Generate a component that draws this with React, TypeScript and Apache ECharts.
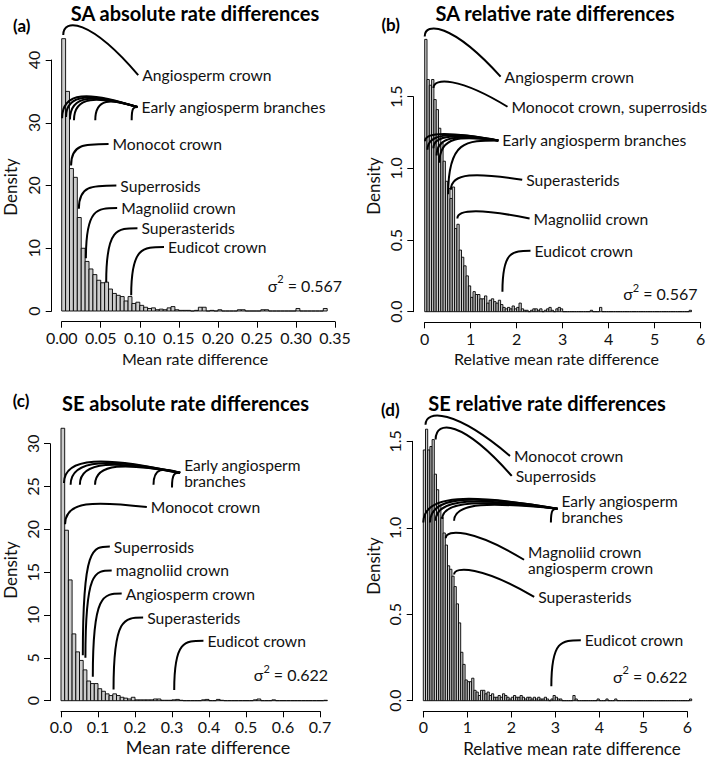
import React, { useEffect, useRef } from "react";
import * as echarts from "echarts";

// ---------- data ----------
const BIN_A = 0.005;
const HIST_A = [
  43.4, 35.0, 22.7, 21.3, 14.9, 10.0, 7.9, 6.7, 5.8, 4.9,
  4.5, 4.6, 3.5, 2.8, 2.5, 2.3, 1.6, 2.3, 1.2, 1.4,
  0.9, 0.6, 0.4, 0.5, 0.2, 0.3, 0.2, 0.5, 0.7, 0.2,
  0.1, 0.1, 0.1, 0, 0.1, 0.6, 0.6, 0, 0.1, 0,
  0.2, 0, 0, 0, 0, 0.2, 0.2, 0, 0, 0,
  0, 0.2, 0.2, 0, 0, 0, 0, 0, 0, 0,
  0.4, 0, 0, 0, 0, 0, 0, 0.4,
];

const BIN_B = 0.05;
const HIST_B = [
  1.9, 1.62, 1.58, 1.62, 1.48, 1.41, 1.28, 1.18, 1.05, 0.91,
  0.86, 0.79, 0.87, 0.58, 0.61, 0.43, 0.38, 0.32, 0.25, 0.18,
  0.1, 0.14, 0.12, 0.12, 0.09, 0.09, 0.11, 0.06, 0.08, 0.09,
  0.07, 0.06, 0.08, 0.05, 0.03, 0.02, 0.03, 0.02, 0.04, 0.02,
  0.03, 0.06, 0.02, 0.01, 0.01, 0, 0.01, 0.02, 0.02, 0.01,
  0.02, 0, 0.01, 0.02, 0.03, 0.01, 0, 0.02, 0.03, 0.02,
  0, 0, 0, 0, 0, 0, 0, 0, 0, 0,
  0, 0, 0.01, 0, 0, 0, 0.03, 0, 0, 0,
  0, 0, 0, 0, 0, 0, 0, 0, 0, 0,
  0, 0, 0, 0, 0, 0, 0, 0, 0, 0,
  0, 0, 0, 0, 0, 0, 0, 0, 0, 0,
  0, 0, 0, 0, 0, 0.01,
];

const BIN_C = 0.01;
const HIST_C = [
  31.8, 19.9, 14.1, 7.8, 5.7, 4.7, 3.6, 2.3, 2.0, 2.0,
  1.4, 1.1, 0.8, 0.6, 0.8, 0.6, 0.4, 0.3, 0.2, 0.4,
  0.1, 0.1, 0.1, 0.1, 0.1, 0.2, 0.2, 0.05, 0.05, 0.05,
  0.1, 0.15, 0.05, 0, 0, 0, 0, 0, 0.1, 0.15,
  0, 0, 0.15, 0.05, 0, 0, 0, 0, 0, 0,
  0, 0, 0.1, 0.2, 0, 0, 0, 0.1, 0, 0,
  0, 0, 0, 0, 0, 0, 0, 0, 0, 0,
  0, 0.05,
];

const BIN_D = 0.05;
const HIST_D = [
  1.45, 1.57, 1.45, 1.47, 1.51, 1.31, 1.22, 1.13, 1.06, 0.97,
  0.9, 0.78, 0.76, 0.72, 0.66, 0.56, 0.45, 0.28, 0.21, 0.12,
  0.11, 0.11, 0.13, 0.06, 0.05, 0.03, 0.06, 0.06, 0.04, 0.05,
  0.03, 0.04, 0.02, 0.02, 0.03, 0.02, 0.04, 0.03, 0.02, 0.01,
  0.02, 0.03, 0.02, 0.02, 0.03, 0.02, 0.01, 0.02, 0.02, 0.01,
  0.02, 0.01, 0.02, 0.01, 0.01, 0.02, 0.01, 0, 0.01, 0.03,
  0.02, 0.01, 0.01, 0, 0, 0, 0, 0, 0.03, 0.01,
  0, 0, 0, 0, 0, 0, 0, 0, 0, 0.01,
  0, 0, 0, 0.01, 0, 0, 0, 0.01, 0, 0,
  0, 0, 0, 0, 0, 0, 0, 0, 0, 0,
  0, 0, 0, 0, 0, 0, 0, 0, 0, 0,
  0, 0, 0, 0, 0, 0, 0, 0, 0, 0,
  0, 0.01,
];

// annotation: label, end point (data units), lines = [x0, y0, peak]
const ANN_A = [
  { text: "Angiosperm crown", end: [0.098, 37.6], lines: [[0.002, 44.0, 45.2]] },
  {
    text: "Early angiosperm branches",
    end: [0.097, 32.5],
    lines: [[0.0005, 30.7, 34.2], [0.0055, 30.9, 34.0], [0.0106, 30.5, 33.8], [0.0157, 30.4, 33.6], [0.043, 30.4, 33.3], [0.0896, 30.4, 32.5]],
  },
  { text: "Monocot crown", end: [0.06, 26.6], lines: [[0.012, 23.2, 26.6]] },
  { text: "Superrosids", end: [0.07, 20.0], lines: [[0.022, 16.3, 20.0]] },
  { text: "Magnoliid crown", end: [0.071, 16.4], lines: [[0.031, 8.4, 16.4]] },
  { text: "Superasterids", end: [0.097, 13.2], lines: [[0.057, 4.6, 13.2]] },
  { text: "Eudicot crown", end: [0.131, 10.2], lines: [[0.089, 2.5, 10.2]] },
];

const ANN_B = [
  { text: "Angiosperm crown", end: [1.65, 1.64], lines: [[0.0, 1.92, 1.96]] },
  { text: "Monocot crown, superrosids", end: [1.8, 1.43], lines: [[0.19, 1.56, 1.6]] },
  {
    text: "Early angiosperm branches",
    end: [1.6, 1.195],
    lines: [[0.007, 1.19, 1.24], [0.06, 1.13, 1.23], [0.19, 1.14, 1.22], [0.26, 1.09, 1.21], [0.32, 1.04, 1.2], [0.51, 0.82, 1.195]],
  },
  { text: "Superasterids", end: [2.12, 0.92], lines: [[0.57, 0.85, 0.95]] },
  { text: "Magnoliid crown", end: [2.28, 0.65], lines: [[0.71, 0.65, 0.7]] },
  { text: "Eudicot crown", end: [2.3, 0.425], lines: [[1.69, 0.14, 0.425]] },
];

const ANN_C = [
  {
    text: "Early angiosperm\nbranches",
    end: [0.322, 26.6],
    lines: [[0.008, 25.4, 27.9], [0.026, 25.2, 27.7], [0.051, 25.2, 27.5], [0.092, 25.2, 27.3], [0.25, 25.2, 26.9], [0.3, 24.9, 26.6]],
  },
  { text: "Monocot crown", end: [0.232, 22.6], lines: [[0.011, 20.6, 22.9]] },
  { text: "Superrosids", end: [0.132, 18.0], lines: [[0.059, 5.3, 18.0]] },
  { text: "magnoliid crown", end: [0.137, 15.2], lines: [[0.066, 5.0, 15.2]] },
  { text: "Angiosperm crown", end: [0.164, 12.5], lines: [[0.086, 2.8, 12.5]] },
  { text: "Superasterids", end: [0.222, 9.7], lines: [[0.142, 1.3, 9.7]] },
  { text: "Eudicot crown", end: [0.385, 7.0], lines: [[0.306, 1.25, 7.0]] },
];

const ANN_D = [
  { text: "Monocot crown", end: [1.97, 1.415], lines: [[0.05, 1.595, 1.64]] },
  { text: "Superrosids", end: [2.01, 1.3], lines: [[0.28, 1.51, 1.57]] },
  {
    text: "Early angiosperm\nbranches",
    end: [3.05, 1.11],
    lines: [[0.0, 1.03, 1.165], [0.15, 1.03, 1.16], [0.28, 1.04, 1.15], [0.43, 1.05, 1.14], [0.7, 1.04, 1.13], [2.9, 1.03, 1.11]],
  },
  { text: "Magnoliid crown\nangiosperm crown", end: [2.29, 0.815], lines: [[0.51, 0.94, 0.965]] },
  { text: "Superasterids", end: [2.52, 0.6], lines: [[0.7, 0.73, 0.75]] },
  { text: "Eudicot crown", end: [3.58, 0.35], lines: [[2.91, 0.083, 0.35]] },
];

const TITLES = [
  "SA absolute rate differences",
  "SA relative rate differences",
  "SE absolute rate differences",
  "SE relative rate differences",
];
const TAGS = ["(a)", "(b)", "(c)", "(d)"];
const X_NAMES = [
  "Mean rate difference",
  "Relative mean rate difference",
  "Mean rate difference",
  "Relative mean rate difference",
];
const Y_NAME = "Density";
const SIGMAS = ["0.567", "0.567", "0.622", "0.622"];

// axis scales: [max, interval, decimals]
const X_SCALES = [
  [0.35, 0.05, 2],
  [6, 1, 0],
  [0.7, 0.1, 1],
  [6, 1, 0],
];
const Y_SCALES = [
  [40, 10, 0],
  [1.5, 0.5, 1],
  [30, 5, 0],
  [1.5, 0.5, 1],
];

// ---------- layout ----------
const FONT = "Lato";
const INK = "#111";
const LABEL_SIZE = 15.7;
const LAYOUT = [
  { grid: [61.7, 60, 273.3, 251], title: [195, 12.5], tag: [21.7, 25], xName: [195, 358, 16], yName: [10, 187], sigmaAt: [0.359, 4.4], xOff: 10.7, yOff: 10, xMargin: 8 },
  { grid: [424.7, 96.7, 276, 215], title: [555, 12.5], tag: [390.7, 24], xName: [556.5, 358, 16], yName: [373, 186], sigmaAt: [5.93, 0.14], xOff: 10.6, yOff: 11.4, xMargin: 8 },
  { grid: [61, 443.7, 259, 257], title: [185.5, 402.5], tag: [21, 400.5], xName: [208, 747, 18], yName: [10, 570], sigmaAt: [0.722, 3.24], xOff: 10.6, yOff: 11, xMargin: 7 },
  { grid: [423.3, 441.3, 264, 259.4], title: [547, 403], tag: [390.3, 409], xName: [572, 748, 17], yName: [373, 566], sigmaAt: [6.0, 0.154], xOff: 10.8, yOff: 10.6, xMargin: 7 },
];

const PANELS = [
  { bin: BIN_A, hist: HIST_A, ann: ANN_A },
  { bin: BIN_B, hist: HIST_B, ann: ANN_B },
  { bin: BIN_C, hist: HIST_C, ann: ANN_C },
  { bin: BIN_D, hist: HIST_D, ann: ANN_D },
];

function buildOption() {
  const grid: any[] = [];
  const xAxis: any[] = [];
  const yAxis: any[] = [];
  const series: any[] = [];
  const graphic: any[] = [];

  PANELS.forEach((p, i) => {
    const L = LAYOUT[i];
    const [xMax, xInt, xDec] = X_SCALES[i];
    const [yMax, yInt, yDec] = Y_SCALES[i];
    grid.push({
      left: L.grid[0],
      top: L.grid[1],
      width: L.grid[2],
      height: L.grid[3],
      containLabel: false,
      outerBoundsMode: "none",
    });
    xAxis.push({
      type: "value",
      gridIndex: i,
      min: 0,
      max: xMax,
      interval: xInt,
      offset: L.xOff,
      axisLine: { show: true, onZero: false, lineStyle: { color: "#000", width: 1 } },
      axisTick: { show: true, length: 6, lineStyle: { color: "#000", width: 1 } },
      axisLabel: {
        margin: L.xMargin,
        color: INK,
        fontSize: 16,
        fontFamily: FONT,
        showMinLabel: true,
        showMaxLabel: true,
        formatter: (v: number) => v.toFixed(xDec),
      },
      splitLine: { show: false },
    });
    yAxis.push({
      type: "value",
      gridIndex: i,
      min: 0,
      max: yMax,
      interval: yInt,
      offset: L.yOff,
      axisLine: { show: true, onZero: false, lineStyle: { color: "#000", width: 1 } },
      axisTick: { show: true, length: 6, lineStyle: { color: "#000", width: 1 } },
      axisLabel: {
        margin: 10,
        rotate: 90,
        color: INK,
        fontSize: 16,
        fontFamily: FONT,
        showMinLabel: true,
        showMaxLabel: true,
        formatter: (v: number) => v.toFixed(yDec),
      },
      splitLine: { show: false },
    });

    // histogram
    series.push({
      type: "custom",
      name: "hist" + i,
      xAxisIndex: i,
      yAxisIndex: i,
      clip: false,
      silent: true,
      data: p.hist.map((h, k) => [k * p.bin, (k + 1) * p.bin, h]),
      encode: { x: [0, 1], y: 2 },
      renderItem: (_params: any, api: any) => {
        const a = api.coord([api.value(0), api.value(2)]);
        const b = api.coord([api.value(1), 0]);
        return {
          type: "rect",
          shape: { x: a[0], y: a[1], width: b[0] - a[0], height: b[1] - a[1] },
          style: { fill: "#cccccc", stroke: "#000", lineWidth: 0.9 },
        };
      },
    });

    // annotation curves
    const lineData: number[][] = [];
    p.ann.forEach((a) => {
      a.lines.forEach((l) => lineData.push([l[0], l[1], l[2], a.end[0], a.end[1]]));
    });
    series.push({
      type: "custom",
      name: "curves" + i,
      xAxisIndex: i,
      yAxisIndex: i,
      clip: false,
      silent: true,
      data: lineData,
      encode: { x: 0, y: 1 },
      renderItem: (_params: any, api: any) => {
        const x0 = api.value(0);
        const y0 = api.value(1);
        const pk = api.value(2);
        const x1 = api.value(3);
        const y1 = api.value(4);
        const c = pk <= Math.max(y0, y1) + 1e-9 ? y1 : ((pk - (y0 + y1) / 8) * 4) / 3;
        const p0 = api.coord([x0, y0]);
        const p3 = api.coord([x1, y1]);
        const c1 = api.coord([x0, c]);
        const c2 = api.coord([x0 + 0.35 * (x1 - x0), c]);
        return {
          type: "bezierCurve",
          shape: {
            x1: p0[0], y1: p0[1], x2: p3[0], y2: p3[1],
            cpx1: c1[0], cpy1: c1[1], cpx2: c2[0], cpy2: c2[1],
          },
          style: { stroke: "#000", lineWidth: 2, fill: "none" },
        };
      },
    });

    // annotation labels
    series.push({
      type: "custom",
      name: "labels" + i,
      xAxisIndex: i,
      yAxisIndex: i,
      clip: false,
      silent: true,
      data: p.ann.map((a) => [a.end[0], a.end[1]]),
      encode: { x: 0, y: 1 },
      renderItem: (params: any, api: any) => {
        const pt = api.coord([api.value(0), api.value(1)]);
        const a = p.ann[params.dataIndex];
        const multi = a.text.indexOf("\n") >= 0;
        return {
          type: "text",
          x: pt[0] + 4,
          y: pt[1],
          style: {
            text: a.text,
            fill: INK,
            fontSize: multi ? 15.5 : LABEL_SIZE,
            fontFamily: FONT,
            lineHeight: 16,
            align: "left",
            verticalAlign: "middle",
          },
        };
      },
    });

    // sigma^2 label
    series.push({
      type: "custom",
      name: "sigma" + i,
      xAxisIndex: i,
      yAxisIndex: i,
      clip: false,
      silent: true,
      data: [L.sigmaAt],
      encode: { x: 0, y: 1 },
      renderItem: (_params: any, api: any) => {
        const pt = api.coord([api.value(0), api.value(1)]);
        return {
          type: "text",
          x: pt[0],
          y: pt[1],
          style: {
            text: "{s|σ}{p|2}{s| = " + SIGMAS[i] + "}",
            fill: INK,
            fontFamily: FONT,
            align: "right",
            verticalAlign: "middle",
            rich: {
              s: { fontSize: 16, fontFamily: FONT, fill: INK, verticalAlign: "bottom", lineHeight: 20 },
              p: { fontSize: 11, fontFamily: FONT, fill: INK, verticalAlign: "top", lineHeight: 12 },
            },
          },
        };
      },
    });

    // titles & axis titles
    graphic.push({
      type: "text",
      x: L.title[0],
      y: L.title[1],
      style: {
        text: TITLES[i], fill: "#000", fontSize: 20, fontWeight: "bold", fontFamily: FONT,
        align: "center", verticalAlign: "middle",
      },
    });
    graphic.push({
      type: "text",
      x: L.tag[0],
      y: L.tag[1],
      style: {
        text: TAGS[i], fill: "#000", fontSize: 17, fontWeight: "bold", fontFamily: FONT,
        align: "center", verticalAlign: "middle",
      },
    });
    graphic.push({
      type: "text",
      x: L.xName[0],
      y: L.xName[1],
      style: {
        text: X_NAMES[i], fill: INK, fontSize: L.xName[2], fontFamily: FONT,
        align: "center", verticalAlign: "middle",
      },
    });
    graphic.push({
      type: "text",
      x: L.yName[0],
      y: L.yName[1],
      rotation: Math.PI / 2,
      style: {
        text: Y_NAME, fill: INK, fontSize: 17, fontFamily: FONT,
        align: "center", verticalAlign: "middle",
      },
    });
  });

  return {
    animation: false,
    backgroundColor: "#fff",
    grid,
    xAxis,
    yAxis,
    series,
    graphic,
  };
}

export default function App() {
  const ref = useRef<HTMLDivElement>(null);
  useEffect(() => {
    if (!ref.current) return;
    const chart = echarts.init(ref.current, null, { renderer: "svg" });
    chart.setOption(buildOption() as any);
    return () => chart.dispose();
  }, []);
  return (
    <div
      ref={ref}
      style={{ position: "absolute", left: 0, top: 0, width: 709, height: 757, background: "#fff" }}
    />
  );
}
